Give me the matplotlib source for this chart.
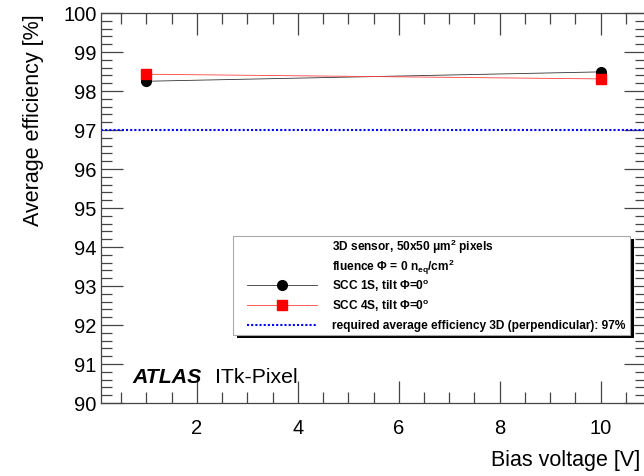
import matplotlib
matplotlib.use("Agg")
import matplotlib.pyplot as plt
from matplotlib.lines import Line2D
from matplotlib.patches import Rectangle
from matplotlib.ticker import MultipleLocator

plt.rcParams['font.family'] = ['Liberation Sans', 'DejaVu Sans']
plt.rcParams['mathtext.fontset'] = 'custom'
plt.rcParams['mathtext.rm'] = 'Liberation Sans'
plt.rcParams['mathtext.bf'] = 'Liberation Sans:bold'

# Data
bias_voltage = [1, 10]
eff_scc1s = [98.25, 98.49]
eff_scc4s = [98.43, 98.31]
required_eff = 97.0
x_range = [0.1, 10.9]
y_range = [90, 100]

fig = plt.figure(figsize=(6.44, 4.77), dpi=100)
ax = fig.add_axes([101/644, 73/477, 545/644, 390/477])

ax.plot(bias_voltage, eff_scc1s, color='#333333', lw=0.6, marker='o', ms=7,
        mfc='black', mec='black', zorder=3)
ax.plot(bias_voltage, eff_scc4s, color='#ff4040', lw=0.6, marker='s', ms=6.5,
        mfc='red', mec='red', zorder=3)
ax.axhline(required_eff, color='blue', lw=1.5, ls=(0, (1.0, 1.0)), zorder=2)

ax.set_xlim(*x_range)
ax.set_ylim(*y_range)
ax.xaxis.set_major_locator(MultipleLocator(2))
ax.xaxis.set_minor_locator(MultipleLocator(0.5))
ax.yaxis.set_major_locator(MultipleLocator(1))
ax.yaxis.set_minor_locator(MultipleLocator(0.2))
ax.tick_params(which='both', direction='in', top=True, right=True,
               colors='#444444', labelcolor='black', labelsize=14.5, width=0.9)
ax.tick_params(which='major', length=16)
ax.tick_params(axis='y', which='major', pad=3)
ax.tick_params(axis='x', which='major', pad=11)
ax.tick_params(which='minor', length=8)
for s in ax.spines.values():
    s.set_color('#444444')
    s.set_linewidth(0.9)

ax.set_ylabel('Average efficiency [%]', fontsize=15.5, loc='top', labelpad=14)
fig.text(640/644, 1 - 461/477, 'Bias voltage [V]', fontsize=15.5,
         ha='right', va='center')

# ATLAS label
fig.text(132/644, 1 - 383/477, 'ATLAS', fontsize=15.3, fontweight='bold',
         fontstyle='italic', ha='left', va='baseline')
fig.text(215/644, 1 - 383/477, 'ITk-Pixel', fontsize=15.3, ha='left', va='baseline')

# Legend (manual)
W, H = 644, 477
def fx(x): return x / W
def fy(y): return 1 - y / H
lx0, ly0, lx1, ly1 = 233, 237, 630, 336
shadow = Rectangle((fx(lx0 + 4), fy(ly1 + 3)), fx(lx1 - lx0), (ly1 - ly0) / H,
                   transform=fig.transFigure, facecolor='black', edgecolor='none', zorder=4)
box = Rectangle((fx(lx0), fy(ly1)), fx(lx1 - lx0), (ly1 - ly0) / H,
                transform=fig.transFigure, facecolor='white', edgecolor='#aaaaaa',
                lw=0.8, zorder=5)
fig.add_artist(shadow)
fig.add_artist(box)

fs = 8.6
rows = [247, 267, 286, 306, 326]
texts = [r'3D sensor, 50x50 $\mathbf{\mu}$m$^{\mathbf{2}}$ pixels',
         r'fluence $\mathbf{\Phi}$ = 0 n$_{\mathbf{eq}}$/cm$^{\mathbf{2}}$',
         r'SCC 1S, tilt $\mathbf{\Phi}$=0$^{\mathbf{o}}$',
         r'SCC 4S, tilt $\mathbf{\Phi}$=0$^{\mathbf{o}}$',
         'required average efficiency 3D (perpendicular): 97%']
for y, t in zip(rows, texts):
    fig.text(fx(332), fy(y), t, fontsize=fs, fontweight='bold', ha='left',
             va='center', zorder=6)

fig.add_artist(Line2D([fx(247), fx(317)], [fy(rows[2])] * 2, color='#333333', lw=0.6,
                      transform=fig.transFigure, zorder=6))
fig.add_artist(Line2D([fx(282)], [fy(rows[2])], color='black', marker='o', ms=7,
                      transform=fig.transFigure, zorder=7))
fig.add_artist(Line2D([fx(247), fx(317)], [fy(rows[3])] * 2, color='#ff4040', lw=0.6,
                      transform=fig.transFigure, zorder=6))
fig.add_artist(Line2D([fx(282)], [fy(rows[3])], color='red', marker='s', ms=6.5,
                      transform=fig.transFigure, zorder=7))
fig.add_artist(Line2D([fx(247), fx(317)], [fy(rows[4])] * 2, color='blue', lw=1.5,
                      ls=(0, (1.0, 1.0)), transform=fig.transFigure, zorder=6))

fig.savefig('out.png', dpi=100)
